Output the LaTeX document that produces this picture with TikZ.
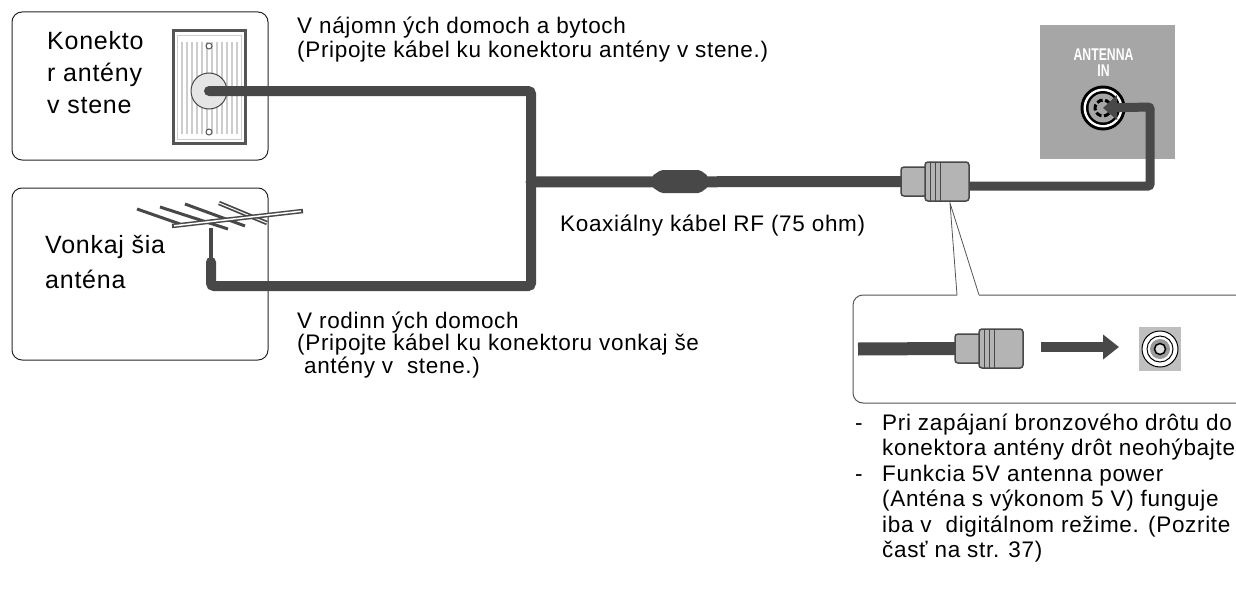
\documentclass[tikz,border=0pt]{standalone}
\usepackage{fontspec}
\setmainfont{Liberation Sans}
\newfontfamily\widesans[LetterSpace=3]{Liberation Sans}
\usetikzlibrary{arrows.meta}

\definecolor{cablegray}{RGB}{72,72,72}
\definecolor{panelgray}{RGB}{166,166,166}
\definecolor{pluggray}{RGB}{180,180,180}
\definecolor{stripegray}{RGB}{205,205,205}
\definecolor{framegray}{RGB}{85,85,85}

\tikzset{
  infobox/.style={draw=black!85, line width=1pt, rounded corners=10pt},
  coax/.style={draw=cablegray, line width=10pt, line cap=round, rounded corners=3pt},
  rod/.style={cablegray, line width=3pt},
  boxtext/.style={anchor=base west, align=left, inner sep=0pt, font=\widesans\fontsize{25}{32}\selectfont},
  captext/.style={anchor=base west, align=left, inner sep=0pt, font=\widesans\fontsize{22.5}{24}\selectfont},
  notetext/.style={anchor=base west, align=left, inner sep=0pt, font=\widesans\fontsize{22.5}{25.5}\selectfont},
  plugbody/.style={draw=cablegray, line width=1.5pt, fill=pluggray, rounded corners=3pt},
  fplug/.pic={
    \path[plugbody] (0,-14.5) rectangle (26,14.5);
    \path[plugbody] (24,-19.5) rectangle (68,19.5);
    \foreach \x in {29,34,39}
      \draw[cablegray, line width=0.8pt] (\x,-19.5) -- (\x,19.5);
  }
}

\begin{document}
\begin{tikzpicture}[x=1pt, y=-1pt]
  \useasboundingbox (0,0) rectangle (1236,594);
  \clip (0,0) rectangle (1236,594);

  \coordinate (jack) at (209,91);
  \coordinate (split) at (531,182);
  \coordinate (drop) at (531,286);
  \coordinate (mastfoot) at (211,262);
  \coordinate (masttop) at (211,228);
  \coordinate (plug) at (901,181.5);
  \coordinate (plugend) at (968,186);
  \coordinate (riser) at (1150,107);
  \coordinate (sock) at (1103,108);

  \node[infobox, minimum width=256, minimum height=148] (wallbox) at (140,86) {};
  \node[infobox, minimum width=256, minimum height=172] (outbox) at (140,274) {};

  % multi-line nodes sit on the baseline of their last line
  \node[boxtext] (walltext) at (47,113) {Konekto\\r antény\\v stene};
  \node[boxtext, font=\widesans\fontsize{25}{35}\selectfont] (outtext) at (45,288) {Vonkaj šia\\anténa};

  % wall plate
  \draw[framegray, line width=3pt, fill=white] (173,31) rectangle (245,143);
  \draw[stripegray, line width=0.8pt] (177,35) rectangle (241,139);
  \foreach \x in {182,187,...,237}
    \draw[stripegray, line width=1.5pt] (\x,42) -- (\x,134);
  \draw[framegray, line width=1pt, fill=white] (209,46) circle (3);
  \draw[framegray, line width=1pt, fill=white] (209,132) circle (3);
  \draw[cablegray, line width=1pt, fill=black!10] (jack) circle (18);

  % antenna
  \draw[rod] (137,209) -- (180,224);
  \draw[rod] (160,207) -- (228,229);
  \draw[rod] (185,204) -- (245,226);
  \draw[cablegray, line width=4.5pt] (219,203) -- (267,223);
  \draw[white, line width=1pt] (219,203) -- (267,223);
  \draw[cablegray, line width=4.5pt] (172,226) -- (303,211);
  \draw[white, line width=1.5pt] (174,225.8) -- (301,211.2);
  \draw[cablegray, line width=4pt] (masttop) -- (mastfoot);

  % cables
  \draw[coax] (jack) -| (drop) -| (mastfoot);
  \draw[coax, line width=11pt] (split) -- (plug);
  \fill[cablegray, rounded corners=2pt] (652,176) -- (661,170) -- (700,170) -- (708,176)
    -- (708,187) -- (700,193) -- (661,193) -- (652,187) -- cycle;

  % tv panel
  \fill[panelgray] (1040,25) rectangle (1175,159);
  \node[inner sep=0pt, anchor=base, text=white, font=\bfseries\fontsize{17}{16}\selectfont, xscale=0.72] (ant) at (1103.5,60) {ANTENNA};
  \node[inner sep=0pt, anchor=base, text=white, font=\bfseries\fontsize{17}{16}\selectfont, xscale=0.72] (in) at (1103.5,76) {IN};
  \fill[black] (sock) circle (22.5);
  \fill[white] (sock) circle (19.5);
  \fill[black] (sock) circle (17);
  \fill[panelgray] (sock) circle (14.5);
  \draw[black, line width=3pt, dash pattern=on 6pt off 2.5pt] (sock) ++(40:8) arc (40:320:8);

  \draw[coax, line width=9pt, line cap=butt, rounded corners=2pt, -{Triangle[length=14pt,width=24pt]}]
    (plugend) -| (riser) -- (sock);
  \pic at (plug) {fplug};

  % close-up
  \coordinate (tip) at (950,203);
  \draw[framegray, line width=1pt, rounded corners=10pt] (957,295) -- (853,295) -- (853,403)
    -- (1262,403) -- (1262,295) -- (979,295);
  \draw[framegray, line width=0.8pt] (957,295) -- (tip) -- (979,295);
  \coordinate (cutend) at (858,349);
  \coordinate (cutplug) at (955,348.5);
  \draw[cablegray, line width=13pt] (cutend) -- (cutplug);
  \pic at (cutplug) {fplug};
  \coordinate (push) at (1041,347);
  \coordinate (pushtip) at (1119,347);
  \draw[cablegray, line width=10pt, -{Triangle[length=16pt,width=24pt]}] (push) -- (pushtip);
  \fill[black!25] (1139,327) rectangle (1181,371);
  \draw[black, line width=1pt, fill=white] (1160,349) circle (18);
  \draw[black, line width=1pt, fill=white] (1160,349) circle (13);
  \fill[black!40] (1160,349) circle (10);
  \draw[black, line width=1.5pt, fill=black!12] (1160,349) circle (5.5);

  % labels
  \node[captext] (rent) at (297,57) {V nájomn ých domoch a bytoch\\(Pripojte kábel ku konektoru antény v stene.)};
  \node[captext] (coaxtext) at (560,231) {Koaxiálny kábel RF (75 ohm)};
  \node[captext, font=\widesans\fontsize{22.5}{22.5}\selectfont] (house) at (297,373) {V rodinn ých domoch\\(Pripojte kábel ku konektoru vonkaj še\\\ antény v\ \ stene.)};

  \node[notetext] (dasha) at (855,430) {-};
  \node[notetext] (notea) at (882,455.5) {Pri zapájaní bronzového drôtu do\\konektora antény drôt neohýbajte.};
  \node[notetext] (dashb) at (855,481) {-};
  \node[notetext] (noteb) at (882,557.5) {Funkcia 5V antenna power\\(Anténa s výkonom 5 V) funguje\\iba v\ \ digitálnom režime. (Pozrite\\časť na str. 37)};
\end{tikzpicture}
\end{document}
